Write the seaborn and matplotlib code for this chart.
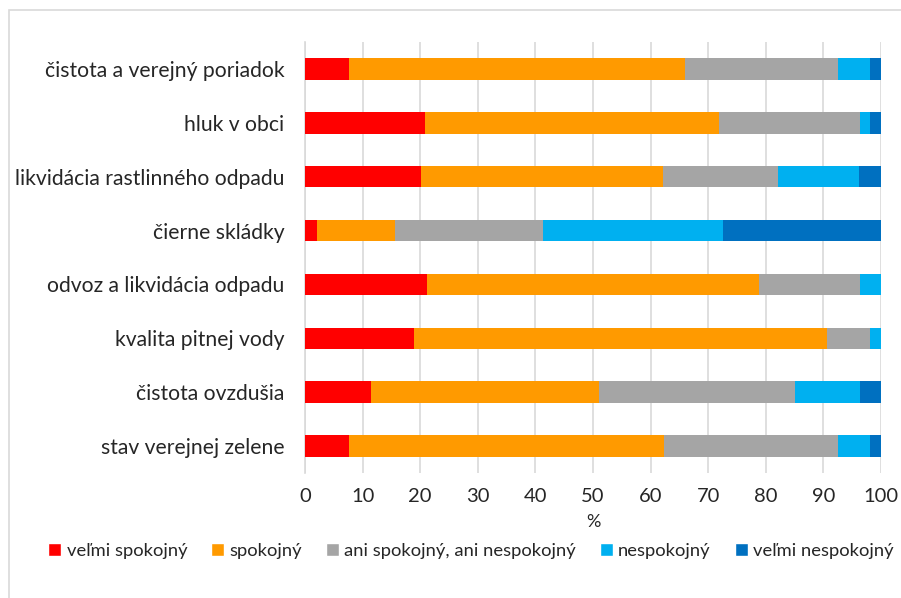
import numpy as np
import pandas as pd
import seaborn as sns
import matplotlib.pyplot as plt
from matplotlib.patches import Rectangle, Patch

categories = ['čistota a verejný poriadok', 'hluk v obci', 'likvidácia rastlinného odpadu',
              'čierne skládky', 'odvoz a likvidácia odpadu', 'kvalita pitnej vody',
              'čistota ovzdušia', 'stav verejnej zelene']
levels = ['veľmi spokojný', 'spokojný', 'ani spokojný, ani nespokojný',
          'nespokojný', 'veľmi nespokojný']

velmi_spokojny = [7.6, 20.8, 20.1, 2.0, 21.1, 18.9, 11.4, 7.6]
spokojny = [58.4, 51.1, 42.1, 13.6, 57.7, 71.7, 39.6, 54.7]
ani_ani = [26.5, 24.4, 19.9, 25.7, 17.5, 7.5, 34.1, 30.2]
nespokojny = [5.6, 1.8, 14.1, 31.3, 3.7, 1.9, 11.2, 5.6]
velmi_nespokojny = [1.9, 1.9, 3.8, 27.4, 0.0, 0.0, 3.7, 1.9]

colors = ['#FF0000', '#FF9A00', '#A5A5A5', '#00B0F0', '#0070C0']

df = pd.DataFrame({'kategoria': categories,
                   levels[0]: velmi_spokojny,
                   levels[1]: spokojny,
                   levels[2]: ani_ani,
                   levels[3]: nespokojny,
                   levels[4]: velmi_nespokojny})
cum = df[levels].cumsum(axis=1)

sns.set_style('white')
plt.rcParams['font.family'] = ['Lato', 'DejaVu Sans']

fig = plt.figure(figsize=(9.01, 5.98), dpi=100)
ax = fig.add_axes([305/901, 1 - 473/598, 576/901, 431/598])

# stacked bars: draw cumulative totals from the last level backwards
for lev, col in reversed(list(zip(levels, colors))):
    sns.barplot(x=cum[lev], y=df['kategoria'], color=col, orient='h',
                width=0.4, ax=ax, saturation=1, linewidth=0, zorder=3)

ax.set_xlim(0, 100)
ax.set_ylim(7.5, -0.5)
ax.set_xticks(np.arange(0, 101, 10))
ax.xaxis.grid(True, color='#D9D9D9', linewidth=1.2, zorder=0)
ax.set_axisbelow(True)
for s in ['top', 'right', 'bottom']:
    ax.spines[s].set_visible(False)
ax.spines['left'].set_color('#D9D9D9')
ax.spines['left'].set_linewidth(1.2)
ax.tick_params(axis='y', length=0, pad=15, labelsize=15.2, labelcolor='#262626')
ax.tick_params(axis='x', length=0, pad=11, labelsize=14.5, labelcolor='#262626')
ax.set_ylabel('')
ax.set_xlabel('%', fontsize=13, color='#262626', labelpad=6)

handles = [Patch(facecolor=c, label=l) for l, c in zip(levels, colors)]
fig.legend(handles=handles, loc='center', bbox_to_anchor=(471/901, 1 - 551/598),
           ncol=5, frameon=False, fontsize=13.2, handlelength=0.7, handleheight=0.7,
           handletextpad=0.3, columnspacing=1.3, labelcolor='#262626')

fig.add_artist(Rectangle((9/901, -0.1), 1.1, 1.1 - 10/598, transform=fig.transFigure,
                         fill=False, edgecolor='#D9D9D9', linewidth=1.2))

fig.savefig('out.png', dpi=100)
